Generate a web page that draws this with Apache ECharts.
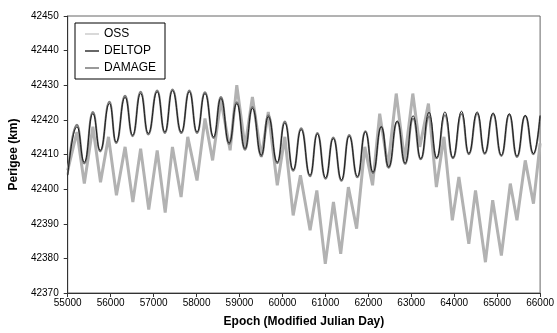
<!DOCTYPE html>
<html>
<head>
<meta charset="utf-8">
<script src="https://cdn.jsdelivr.net/npm/echarts@6/dist/echarts.min.js"></script>
<style>
  html, body { margin: 0; padding: 0; background: #fff; }
  #chart { width: 557px; height: 333px; }
</style>
</head>
<body>
<div id="chart"></div>
<script>
// x ticks and y ticks
const xTicks = [55000, 56000, 57000, 58000, 59000, 60000, 61000, 62000, 63000, 64000, 65000, 66000];
const yTicks = [42370, 42380, 42390, 42400, 42410, 42420, 42430, 42440, 42450];

// DELTOP / DAMAGE: peaks and troughs
const deltopDays = [55000, 55215, 55387, 55586, 55757, 55973, 56128, 56336, 56512, 56698, 56876, 57084, 57263, 57439, 57647, 57832, 58011, 58196, 58398, 58567, 58759, 58937, 59129, 59301, 59509, 59671, 59880, 60056, 60250, 60436, 60644, 60813, 61005, 61184, 61376, 61554, 61747, 61932, 62110, 62302, 62474, 62673, 62858, 63043, 63222, 63414, 63592, 63784, 63970, 64171, 64340, 64535, 64711, 64906, 65098, 65283, 65461, 65654, 65846, 66000];
const deltopVals = [42404.0, 42418.0, 42407.8, 42421.8, 42411.2, 42424.7, 42413.6, 42426.5, 42415.6, 42427.6, 42416.1, 42428.1, 42416.5, 42428.4, 42416.5, 42428.1, 42416.5, 42427.6, 42415.1, 42426.2, 42413.3, 42424.7, 42411.7, 42423.3, 42409.8, 42420.9, 42407.8, 42419.1, 42405.6, 42417.2, 42404.0, 42415.9, 42403.3, 42414.6, 42402.7, 42415.3, 42403.7, 42416.5, 42404.9, 42418.0, 42406.4, 42419.7, 42407.5, 42421.2, 42408.8, 42422.2, 42409.1, 42422.3, 42409.1, 42422.5, 42410.3, 42422.3, 42410.4, 42422.0, 42409.8, 42421.8, 42409.5, 42421.3, 42410.3, 42421.3];
const damageVals = [42404.2, 42418.6, 42407.4, 42422.3, 42410.9, 42425.2, 42413.3, 42427.0, 42415.3, 42428.1, 42415.8, 42428.5, 42416.2, 42428.8, 42416.2, 42428.5, 42416.2, 42428.0, 42414.8, 42426.6, 42413.0, 42425.1, 42411.4, 42423.7, 42409.5, 42421.3, 42407.5, 42419.5, 42405.3, 42417.6, 42403.7, 42416.2, 42403.0, 42414.9, 42402.4, 42415.6, 42403.4, 42416.7, 42404.6, 42418.0, 42406.2, 42419.4, 42407.3, 42420.3, 42408.6, 42421.0, 42408.9, 42421.3, 42408.9, 42421.7, 42410.1, 42421.8, 42410.2, 42421.6, 42409.6, 42421.5, 42409.3, 42421.1, 42410.1, 42421.0];

// OSS: noisy curve, extremes
const ossDays = [55000, 55215, 55387, 55586, 55764, 55950, 56135, 56336, 56517, 56698, 56887, 57084, 57270, 57439, 57640, 57795, 58011, 58196, 58374, 58567, 58782, 58937, 59129, 59301, 59509, 59671, 59880, 60056, 60250, 60419, 60644, 60801, 60998, 61188, 61357, 61536, 61728, 61918, 62099, 62265, 62457, 62650, 62844, 63036, 63199, 63400, 63585, 63761, 63956, 64109, 64340, 64496, 64727, 64896, 65098, 65306, 65461, 65654, 65846, 66000];
const ossVals = [42405.4, 42416.5, 42401.6, 42418.0, 42402.0, 42415.1, 42398.2, 42412.2, 42396.3, 42411.7, 42394.1, 42411.2, 42393.2, 42412.2, 42397.7, 42415.1, 42402.5, 42420.4, 42408.3, 42425.7, 42411.2, 42430.0, 42412.2, 42426.6, 42409.3, 42422.3, 42401.1, 42415.1, 42392.4, 42404.0, 42388.1, 42399.6, 42378.4, 42396.3, 42381.3, 42400.6, 42388.6, 42412.2, 42401.1, 42421.8, 42406.4, 42427.6, 42408.3, 42427.6, 42412.2, 42424.7, 42400.6, 42415.1, 42391.0, 42403.5, 42384.2, 42399.6, 42378.9, 42396.8, 42380.8, 42401.6, 42391.0, 42408.3, 42395.8, 42413.2];

const zip = (xs, ys) => xs.map((x, i) => [x, ys[i]]);

const chart = echarts.init(document.getElementById("chart"));

const axisColor = "#333";
const font = "Liberation Sans, Arial, sans-serif";

chart.setOption({
  animation: false,
  backgroundColor: "#fff",
  grid: {
    left: 66, right: 16, top: 16, bottom: 40,
    show: true, borderColor: "#666", borderWidth: 1
  },
  legend: {
    orient: "vertical",
    left: 75, top: 23,
    padding: [4, 9, 4, 10],
    itemWidth: 14, itemHeight: 14, itemGap: 3,
    symbolKeepAspect: true,
    borderColor: "#000", borderWidth: 1,
    backgroundColor: "#fff",
    textStyle: { fontFamily: font, fontSize: 12, color: "#000", lineHeight: 14 },
    data: [
      { name: "OSS", icon: "path://M0,0H14V1H0Z" },
      { name: "DELTOP", icon: "path://M0,0H14V1.2H0Z" },
      { name: "DAMAGE", icon: "path://M0,0H14V2H0Z" }
    ]
  },
  xAxis: {
    type: "value",
    min: xTicks[0], max: xTicks[xTicks.length - 1], interval: 1000,
    name: "Epoch (Modified Julian Day)",
    nameLocation: "middle", nameGap: 23,
    nameTextStyle: { fontFamily: font, fontSize: 12, fontWeight: "bold", color: "#000" },
    axisLine: { show: true, lineStyle: { color: axisColor, width: 1 } },
    axisTick: { show: true, inside: false, length: 4, lineStyle: { color: axisColor } },
    axisLabel: { fontFamily: font, fontSize: 10, color: "#000", margin: 5, formatter: v => String(v) },
    splitLine: { show: false }
  },
  yAxis: {
    type: "value",
    min: yTicks[0], max: yTicks[yTicks.length - 1], interval: 10,
    name: "Perigee (km)",
    nameLocation: "middle", nameGap: 46, nameRotate: 90,
    nameTextStyle: { fontFamily: font, fontSize: 12, fontWeight: "bold", color: "#000" },
    axisLine: { show: true, lineStyle: { color: axisColor, width: 1 } },
    axisTick: { show: true, inside: false, length: 4, lineStyle: { color: axisColor } },
    axisLabel: { fontFamily: font, fontSize: 10, color: "#000", margin: 9, formatter: v => String(v) },
    splitLine: { show: false }
  },
  series: [
    {
      name: "OSS", type: "line", symbol: "none", z: 1,
      data: zip(ossDays, ossVals),
      lineStyle: { color: "#b2b2b2", width: 3 },
      itemStyle: { color: "#b2b2b2" }
    },
    {
      name: "DAMAGE", type: "line", symbol: "none", z: 2,
      smooth: 0.5, smoothMonotone: "x",
      data: zip(deltopDays, damageVals),
      lineStyle: { color: "#7c7c7c", width: 2 },
      itemStyle: { color: "#9a9a9a" }
    },
    {
      name: "DELTOP", type: "line", symbol: "none", z: 3,
      smooth: 0.5, smoothMonotone: "x",
      data: zip(deltopDays, deltopVals),
      lineStyle: { color: "#111", width: 0.9 },
      itemStyle: { color: "#000" }
    }
  ]
});
</script>
</body>
</html>
